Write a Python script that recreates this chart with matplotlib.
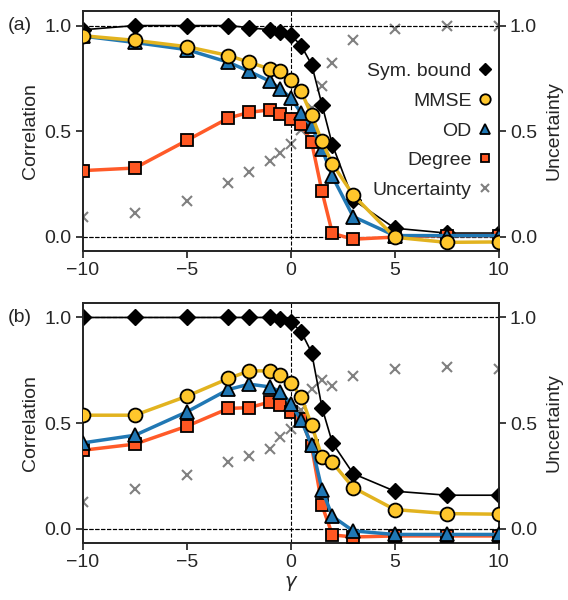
import matplotlib
matplotlib.use('Agg')
import matplotlib.pyplot as plt
import seaborn as sns

sns.set_style('ticks')
plt.rcParams['font.family'] = ['Liberation Sans', 'DejaVu Sans']
plt.rcParams['font.size'] = 14
plt.rcParams['axes.labelsize'] = 14
plt.rcParams['xtick.labelsize'] = 14
plt.rcParams['ytick.labelsize'] = 14
plt.rcParams['legend.fontsize'] = 14
plt.rcParams['mathtext.fontset'] = 'dejavusans'

gamma = [-10, -7.5, -5, -3, -2, -1, -0.5, 0, 0.5, 1, 1.5, 2, 3, 5, 7.5, 10]

# panel (a)
sym_a = [0.98, 1.0, 1.0, 1.0, 0.99, 0.98, 0.97, 0.955, 0.905, 0.815, 0.625, 0.435, 0.175, 0.04, 0.017, 0.017]
mmse_a = [0.952, 0.93, 0.90, 0.858, 0.826, 0.794, 0.783, 0.744, 0.688, 0.576, 0.451, 0.345, 0.197, -0.003, -0.027, -0.025]
od_a = [0.95, 0.92, 0.886, 0.826, 0.783, 0.736, 0.70, 0.657, 0.586, 0.522, 0.415, 0.285, 0.095, 0.005, 0.005, 0.005]
deg_a = [0.313, 0.325, 0.456, 0.562, 0.589, 0.601, 0.582, 0.557, 0.533, 0.448, 0.214, 0.016, -0.012, -0.002, 0.005, 0.005]
unc_a = [0.095, 0.111, 0.171, 0.256, 0.308, 0.36, 0.396, 0.44, 0.506, 0.61, 0.712, 0.824, 0.93, 0.986, 0.997, 1.0]

# panel (b)
sym_b = [1.0, 1.0, 1.0, 1.0, 1.0, 1.0, 0.995, 0.979, 0.932, 0.834, 0.573, 0.406, 0.26, 0.177, 0.158, 0.158]
mmse_b = [0.537, 0.537, 0.627, 0.711, 0.747, 0.747, 0.727, 0.69, 0.624, 0.49, 0.339, 0.313, 0.194, 0.09, 0.071, 0.068]
od_b = [0.406, 0.442, 0.553, 0.659, 0.684, 0.671, 0.648, 0.592, 0.513, 0.395, 0.185, 0.058, -0.011, -0.028, -0.028, -0.028]
deg_b = [0.371, 0.40, 0.485, 0.569, 0.573, 0.60, 0.584, 0.553, 0.521, 0.39, 0.11, -0.03, -0.04, -0.035, -0.035, -0.035]
unc_b = [0.126, 0.186, 0.253, 0.316, 0.344, 0.379, 0.434, 0.474, 0.561, 0.663, 0.703, 0.674, 0.722, 0.758, 0.766, 0.758]

ylim = (-0.067, 1.07)


def draw_panel(ax, sym, mmse, od, deg, unc, tag):
    ax2 = ax.twinx()
    ax.set_zorder(ax2.get_zorder() + 1)
    ax.patch.set_visible(False)

    for a in (ax, ax2):
        a.axhline(0, color='k', ls='--', lw=0.8, zorder=0)
        a.axhline(1, color='k', ls='--', lw=0.8, zorder=0)
    ax.axvline(0, color='k', ls='--', lw=0.8, zorder=0)

    ax.plot(gamma, sym, '-D', color='k', lw=1.2, ms=8.5, mec='k', label='Sym. bound', zorder=2)
    ax.plot(gamma, deg, '-s', color='#ff5a28', lw=2.5, ms=8.5, mfc='#ff5722', mec='k', mew=1.3,
            label='Degree', zorder=3)
    ax.plot(gamma, od, '-^', color='#2178b4', lw=2.5, ms=9.5, mfc='#1f77b4', mec='k', mew=1.3,
            label='OD', zorder=4)
    ax.plot(gamma, mmse, '-o', color='#e2b31f', lw=2.5, ms=10, mfc='#ffc72c', mec='k', mew=1.3,
            label='MMSE', zorder=5)
    ax2.plot(gamma, unc, 'x', color='grey', ms=7, mew=1.5, label='Uncertainty')

    ax.set_xlim(-10, 10)
    ax.set_ylim(*ylim)
    ax2.set_ylim(*ylim)
    ax.set_xticks([-10, -5, 0, 5, 10])
    ax.set_yticks([0, 0.5, 1.0])
    ax2.set_yticks([0, 0.5, 1.0])
    ax.set_ylabel('Correlation', labelpad=4)
    ax2.set_ylabel('Uncertainty', labelpad=6)
    for a in (ax, ax2):
        for s in a.spines.values():
            s.set_linewidth(1.25)
        a.tick_params(width=1.25, length=5, pad=3)
    ax.text(-0.18, 1.0, tag, transform=ax.get_yaxis_transform(), ha='left', va='center')
    return ax2


fig = plt.figure(figsize=(5.68, 6.0), dpi=100)
ax_a = fig.add_axes([0.146, 0.582, 0.732, 0.400])
ax_b = fig.add_axes([0.146, 0.0955, 0.732, 0.400])

ax2_a = draw_panel(ax_a, sym_a, mmse_a, od_a, deg_a, unc_a, '(a)')
draw_panel(ax_b, sym_b, mmse_b, od_b, deg_b, unc_b, '(b)')
ax_b.set_xlabel(r'$\gamma$', labelpad=2)

h1, l1 = ax_a.get_legend_handles_labels()
h2, l2 = ax2_a.get_legend_handles_labels()
order = ['Sym. bound', 'MMSE', 'OD', 'Degree', 'Uncertainty']
hl = dict(zip(l1 + l2, h1 + h2))
ax_a.legend([hl[k] for k in order], order, loc='center right', bbox_to_anchor=(1.0, 0.50),
            frameon=False, markerfirst=False, markerscale=0.75, handlelength=0.0,
            handletextpad=0.7, labelspacing=0.62, borderaxespad=0.3)

fig.savefig('out.png', dpi=100)
